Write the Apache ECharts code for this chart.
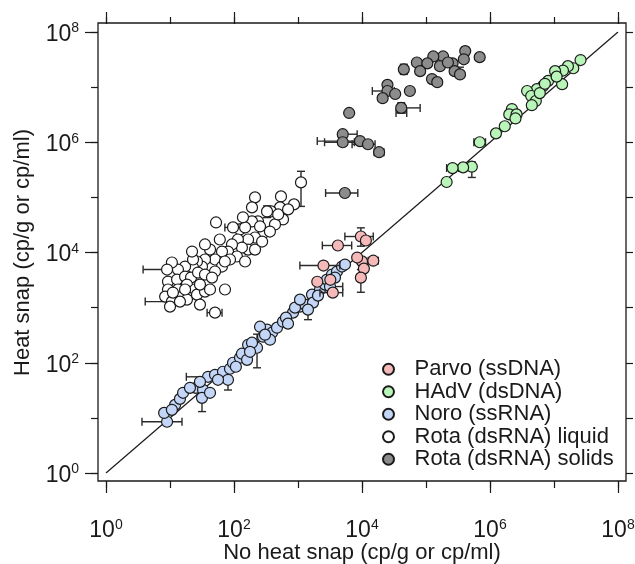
<!DOCTYPE html>
<html><head><meta charset="utf-8">
<script src="https://cdn.jsdelivr.net/npm/echarts@6/dist/echarts.min.js"></script>
<style>html,body{margin:0;padding:0;background:#fff}#c{width:635px;height:564px}</style>
</head><body><div id="c"></div>
<script>
// ---- data (copies per g or per ml) ----
const parvoX = [4200, 9600, 11500, 10000, 15000, 10700, 9600, 2500, 3500, 8400, 3200, 2000];
const parvoY = [13400, 19500, 16500, 6900, 7100, 5100, 3500, 5800, 1870, 8100, 3200, 2950];
const parvoErrX = [[0, 2400, 6900], [1, 5400, 15000], [7, 1070, 4500], [8, 2200, 5000], [4, 12500, 18000]];
const parvoErrY = [[1, 13000, 28000], [6, 1900, 4900]];

const hadvX = [2.6e7, 2.0e7, 1.65e7, 1.38e7, 1.04e7, 1.34e7, 8.1e6, 6.7e6, 5.4e6, 3.8e6, 4.4e6, 5.2e6, 4.5e6, 6.0e6, 2.2e6, 2.0e6, 2.6e6, 2.5e6, 1.7e6, 1.24e6, 6.9e5, 5.2e5, 3.8e5, 2.6e5, 2.1e5, 1.1e7, 7.2e6];
const hadvY = [3.1e7, 2.2e7, 2.4e7, 2.0e7, 1.95e7, 1.13e7, 1.3e7, 1.04e7, 9.2e6, 8.5e6, 6.9e6, 5.6e6, 4.7e6, 7.8e6, 4.0e6, 3.2e6, 3.2e6, 2.7e6, 1.95e6, 1.45e6, 1.0e6, 3.6e5, 3.5e5, 3.4e5, 1.9e5, 1.55e7, 1.15e7];
const hadvErrX = [[20, 5.6e5, 8.5e5], [23, 2.1e5, 3.2e5]];
const hadvErrY = [[21, 2.3e5, 4.4e5], [5, 0.95e7, 1.3e7]];

const noroX = [9.0, 8.1, 12.0, 14.3, 16.0, 25.5, 32.8, 31.6, 42.2, 39.3, 50.5, 67.3, 80.5, 86.6, 96.5, 124, 133, 166, 160, 229, 284, 328, 393, 470, 365, 583, 835, 1075, 1286, 1655, 1716, 2207, 2642, 2838, 3398, 4066, 4870, 5420, 3162, 3785, 20.5, 10.7, 107, 191, 255, 649, 898, 1432, 2054, 305, 56.2, 29.4, 698, 178, 1075];
const noroY = [8.5, 12.3, 17.2, 22.1, 28.5, 35.1, 32.3, 23.1, 28.5, 55.6, 60.5, 68.6, 49.1, 77.8, 100, 123, 146, 212, 113, 187, 297, 398, 351, 433, 262, 556, 811, 1043, 1134, 1722, 1233, 2125, 2620, 3229, 3981, 4516, 5560, 6050, 2410, 3510, 35.1, 14.0, 84.6, 231, 451, 658, 1000, 920, 1652, 323, 49.1, 45.1, 512, 158, 1397];
const noroErrX = [[0, 3.65, 15.4], [9, 18, 50], [38, 2000, 5000]];
const noroErrY = [[7, 13, 30], [12, 32, 70], [19, 81, 330], [47, 605, 1300]];

const rotaLiqX = [1114, 866, 542, 583, 523, 379, 328, 213, 191, 237, 294, 213, 166, 191, 124, 96.5, 115, 166, 133, 93, 80.6, 111, 86.6, 64.9, 50.5, 42.2, 64.9, 50.5, 35.2, 31.6, 26.4, 22.9, 17.2, 13.3, 10.7, 9.0, 9.3, 12.9, 17.2, 21.3, 27.4, 35.2, 45.3, 9.3, 13.3, 18.4, 24.6, 8.4, 10.7, 15.4, 18.4, 26.4, 35.2, 29.4, 50.5, 72.3, 52.4, 22.9, 22.1, 10, 14.3, 11.1, 255, 149, 437, 60, 35.2, 149, 213, 275, 364, 490, 700, 138, 72, 17.2, 29.4, 42.2];
const rotaLiqY = [187000, 74600, 104000, 39800, 65800, 55600, 55600, 100000, 65800, 36600, 23100, 18700, 17200, 36600, 26200, 28500, 17200, 11300, 12300, 14000, 10400, 8460, 7460, 10400, 7460, 11300, 5560, 4520, 7460, 5560, 6860, 5340, 5560, 4910, 6580, 4910, 2970, 3230, 3660, 3510, 4330, 3980, 3510, 2130, 2130, 2620, 2130, 1585, 1285, 1585, 1400, 1720, 1955, 1135, 811, 2130, 35100, 7460, 10400, 1043, 1285, 1875, 29700, 28500, 32300, 17200, 14000, 6860, 11300, 15800, 24000, 49000, 60500, 43500, 6860, 2130, 2620, 2130];
const rotaLiqErrX = [[35, 3.8, 14], [48, 4.1, 16], [54, 38, 65], [15, 72, 120]];
const rotaLiqErrY = [[0, 68600, 297000], [6, 43000, 70000]];

const rotaSolX = [6.9e5, 4.1e5, 3.9e5, 2.6e5, 1.85e5, 1.3e5, 1.65e5, 2.8e5, 3.4e5, 1.24e5, 1.5e5, 7.2e4, 1.05e5, 4.5e4, 2.2e5, 2.5e4, 2.5e4, 2.1e4, 3.3e4, 5.6e4, 4.1e4, 6.3e3, 5.0e3, 5.0e3, 9.3e3, 1.24e4, 1.85e4, 5.4e3, 8.1e4];
const rotaSolY = [3.5e7, 4.5e7, 3.2e7, 2.7e7, 3.6e7, 3.6e7, 2.4e7, 1.95e7, 1.7e7, 1.4e7, 1.23e7, 2.8e7, 2.7e7, 2.1e7, 2.8e7, 1.1e7, 8.5e6, 6.3e6, 7.5e6, 8.5e6, 4.2e6, 3.4e6, 1.4e6, 1.0e6, 1.05e6, 9.2e5, 6.6e5, 1.2e5, 1.95e7];
const rotaSolErrX = [[16, 1.45e4, 3.2e4], [20, 4.2e4, 8.1e4], [21, 3.4e4, 5.0e4], [22, 4.5e3, 8.4e3], [23, 2.6e3, 7.6e3], [24, 2.0e3, 8.4e3], [25, 7.0e3, 1.6e4], [26, 1.55e4, 2.2e4], [27, 2.7e3, 8.6e3]];
const rotaSolErrY = [[13, 1.7e7, 2.6e7], [20, 3.4e6, 5.2e6], [1, 3.8e7, 5.3e7], [8, 1.5e7, 2.3e7]];

const oneToOne = [[1, 1], [1e8, 1e8]];
const names = ['Parvo (ssDNA)', 'HAdV (dsDNA)', 'Noro (ssRNA)', 'Rota (dsRNA) liquid', 'Rota (dsRNA) solids'];
const xTitle = 'No heat snap (cp/g or cp/ml)';
const yTitle = 'Heat snap (cp/g or cp/ml)';

// ---- chart ----
const FONT = "'Liberation Sans', Arial, Helvetica, sans-serif";
const INK = '#1a1a1a';
const pts = (xs, ys) => xs.map((x, i) => [x, ys[i]]);
const hBars = (xs, ys, err) => err.map(([i, lo, hi]) => [lo, hi, ys[i]]);
const vBars = (xs, ys, err) => err.map(([i, lo, hi]) => [xs[i], lo, hi]);

const CAP = 4;
const barStyle = { stroke: '#2a2a2a', lineWidth: 1.4 };
function renderH(params, api) {
  const y = api.value(2);
  const a = api.coord([api.value(0), y]);
  const b = api.coord([api.value(1), y]);
  return { type: 'group', children: [
    { type: 'line', shape: { x1: a[0], y1: a[1], x2: b[0], y2: b[1] }, style: barStyle },
    { type: 'line', shape: { x1: a[0], y1: a[1] - CAP, x2: a[0], y2: a[1] + CAP }, style: barStyle },
    { type: 'line', shape: { x1: b[0], y1: b[1] - CAP, x2: b[0], y2: b[1] + CAP }, style: barStyle }
  ]};
}
function renderV(params, api) {
  const x = api.value(0);
  const a = api.coord([x, api.value(1)]);
  const b = api.coord([x, api.value(2)]);
  return { type: 'group', children: [
    { type: 'line', shape: { x1: a[0], y1: a[1], x2: b[0], y2: b[1] }, style: barStyle },
    { type: 'line', shape: { x1: a[0] - CAP, y1: a[1], x2: a[0] + CAP, y2: a[1] }, style: barStyle },
    { type: 'line', shape: { x1: b[0] - CAP, y1: b[1], x2: b[0] + CAP, y2: b[1] }, style: barStyle }
  ]};
}

const groups = [
  { name: names[3], xs: rotaLiqX, ys: rotaLiqY, ex: rotaLiqErrX, ey: rotaLiqErrY, color: '#ffffff' },
  { name: names[4], xs: rotaSolX, ys: rotaSolY, ex: rotaSolErrX, ey: rotaSolErrY, color: '#8c8c8c' },
  { name: names[1], xs: hadvX, ys: hadvY, ex: hadvErrX, ey: hadvErrY, color: '#b9f5b9' },
  { name: names[2], xs: noroX, ys: noroY, ex: noroErrX, ey: noroErrY, color: '#c4d6f7' },
  { name: names[0], xs: parvoX, ys: parvoY, ex: parvoErrX, ey: parvoErrY, color: '#f6b9b9' }
];

const series = [{
  type: 'line', data: oneToOne, symbol: 'none', silent: true, z: 1,
  lineStyle: { color: INK, width: 1.2 }
}];
groups.forEach((g, k) => {
  series.push({ type: 'custom', renderItem: renderH, data: hBars(g.xs, g.ys, g.ex),
    encode: { x: [0, 1], y: 2 }, z: 2 + k * 2, silent: true });
  series.push({ type: 'custom', renderItem: renderV, data: vBars(g.xs, g.ys, g.ey),
    encode: { x: 0, y: [1, 2] }, z: 2 + k * 2, silent: true });
  series.push({ type: 'scatter', name: g.name, data: pts(g.xs, g.ys), symbol: 'circle', symbolSize: 11,
    z: 3 + k * 2, itemStyle: { color: g.color, borderColor: INK, borderWidth: 1.2, opacity: 1 },
    emphasis: { disabled: true } });
});

const tickStyle = { color: INK, width: 1.2 };
const richLab = {
  b: { fontSize: 23, fontFamily: FONT, color: INK, lineHeight: 26 },
  s: { fontSize: 14, fontFamily: FONT, color: INK, verticalAlign: 'top', lineHeight: 14 }
};
const fmt = v => '{b|10}{s|' + Math.round(Math.log10(v)) + '}';
function ax(position, base, len, label, extra) {
  return Object.assign({
    type: 'log', logBase: base, min: 1, max: 1e8, position: position, offset: 8,
    axisLine: { show: false },
    axisTick: { show: true, length: len, lineStyle: tickStyle },
    axisLabel: label ? Object.assign({ show: true, formatter: fmt, rich: richLab }, label) : { show: false },
    splitLine: { show: false }, minorTick: { show: false }
  }, extra || {});
}

const option = {
  animation: false,
  backgroundColor: '#ffffff',
  textStyle: { fontFamily: FONT },
  grid: { left: 106, right: 17, top: 32, bottom: 91, containLabel: false, outerBoundsMode: 'none' },
  xAxis: [
    ax('bottom', 10, 7, null),
    ax('bottom', 100, 12, { margin: 37 }, {
      name: xTitle, nameLocation: 'middle', nameGap: 61, nameMoveOverlap: false,
      nameTextStyle: { fontSize: 22, fontFamily: FONT, color: INK }
    }),
    ax('top', 10, 7, null),
    ax('top', 100, 12, null)
  ],
  yAxis: [
    ax('left', 10, 7, null),
    ax('left', 100, 13, { margin: 19, padding: [5, 0, 0, 0] }, {
      name: yTitle, nameLocation: 'middle', nameGap: 64, nameMoveOverlap: false,
      nameTextStyle: { fontSize: 22, fontFamily: FONT, color: INK }
    }),
    ax('right', 10, 7, null)
  ],
  legend: {
    orient: 'vertical', left: 377, top: 353,
    data: names, itemWidth: 42, itemHeight: 11, itemGap: 0,
    selectedMode: false,
    textStyle: { fontSize: 22, fontFamily: FONT, color: INK, lineHeight: 22.5 }
  },
  graphic: [{
    type: 'rect', z: 100, silent: true,
    shape: { x: 98, y: 23, width: 528, height: 458 },
    style: { fill: 'none', stroke: INK, lineWidth: 1.3 }
  }],
  series: series
};

const chart = echarts.init(document.getElementById('c'), null, { renderer: 'canvas' });
chart.setOption(option);
</script>
</body></html>
